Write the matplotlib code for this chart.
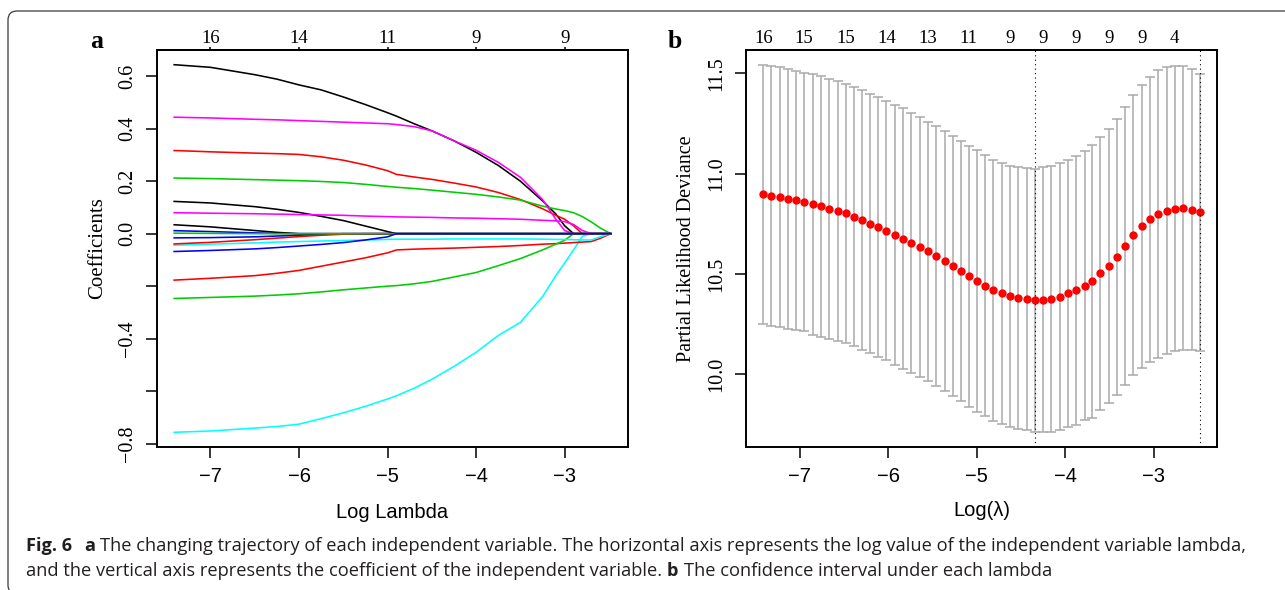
import matplotlib
matplotlib.use("Agg")
import matplotlib.pyplot as plt
import matplotlib.transforms as mtransforms
from matplotlib.patches import FancyBboxPatch

# ---- panel a: coefficient paths ----
xa = [-7.41, -7.0, -6.5, -6.25, -6.0, -5.75, -5.5, -5.25, -5.0, -4.9, -4.7, -4.5,
      -4.25, -4.0, -3.75, -3.5, -3.25, -3.1, -3.0, -2.9, -2.8, -2.7, -2.6, -2.48]

black1 = [0.644, 0.634, 0.606, 0.589, 0.567, 0.548, 0.521, 0.492, 0.461, 0.448, 0.419, 0.392,
          0.354, 0.310, 0.260, 0.200, 0.125, 0.075, 0.030, 0.0, 0, 0, 0, 0]
red1 = [0.317, 0.312, 0.307, 0.305, 0.302, 0.293, 0.280, 0.262, 0.240, 0.226, 0.216, 0.207,
        0.193, 0.178, 0.157, 0.130, 0.095, 0.070, 0.055, 0.030, 0.0, 0, 0, 0]
green1 = [0.212, 0.210, 0.206, 0.204, 0.202, 0.199, 0.195, 0.188, 0.180, 0.177, 0.172, 0.166,
          0.158, 0.150, 0.140, 0.128, 0.105, 0.094, 0.088, 0.080, 0.065, 0.045, 0.022, 0.0]
blue1 = [0.0115, 0.008, 0.003, 0.001, 0.0, 0, 0, 0, 0, 0, 0, 0,
         0, 0, 0, 0, 0, 0, 0, 0, 0, 0, 0, 0]
cyan2 = [-0.757, -0.752, -0.741, -0.735, -0.726, -0.705, -0.683, -0.658, -0.630, -0.618, -0.589, -0.555,
         -0.506, -0.452, -0.388, -0.338, -0.240, -0.160, -0.112, -0.062, -0.010, 0.0, 0, 0]
magenta1 = [0.444, 0.441, 0.436, 0.434, 0.431, 0.428, 0.425, 0.422, 0.419, 0.416, 0.408, 0.392,
            0.354, 0.318, 0.272, 0.215, 0.130, 0.055, 0.012, 0.0, 0, 0, 0, 0]
black2 = [0.123, 0.117, 0.103, 0.093, 0.081, 0.066, 0.050, 0.029, 0.008, 0.0, 0, 0,
          0, 0, 0, 0, 0, 0, 0, 0, 0, 0, 0, 0]
red3 = [-0.177, -0.170, -0.160, -0.151, -0.140, -0.124, -0.108, -0.092, -0.073, -0.062, -0.059, -0.057,
        -0.055, -0.052, -0.049, -0.045, -0.040, -0.038, -0.036, -0.034, -0.032, -0.030, -0.018, 0.0]
green3 = [-0.247, -0.243, -0.238, -0.234, -0.229, -0.222, -0.214, -0.207, -0.200, -0.198, -0.191, -0.182,
          -0.165, -0.148, -0.122, -0.095, -0.062, -0.040, -0.025, 0.0, 0, 0, 0, 0]
blue2 = [-0.016, -0.015, -0.012, -0.009, -0.006, -0.003, 0.0, 0, 0, 0, 0, 0,
         0, 0, 0, 0, 0, 0, 0, 0, 0, 0, 0, 0]
cyan1 = [-0.044, -0.040, -0.035, -0.032, -0.030, -0.028, -0.026, -0.024, -0.022, -0.021, -0.021, -0.021,
         -0.020, -0.020, -0.020, -0.020, -0.021, -0.022, -0.022, -0.023, -0.024, -0.024, -0.012, 0.0]
magenta2 = [0.080, 0.078, 0.076, 0.0745, 0.073, 0.0715, 0.070, 0.067, 0.065, 0.064, 0.063, 0.062,
            0.060, 0.059, 0.057, 0.055, 0.051, 0.049, 0.046, 0.035, 0.012, 0.0, 0, 0]
black3 = [0.034, 0.026, 0.012, 0.005, 0.0, 0, 0, 0, 0, 0, 0, 0,
          0, 0, 0, 0, 0, 0, 0, 0, 0, 0, 0, 0]
red2 = [-0.039, -0.033, -0.023, -0.017, -0.011, -0.006, -0.002, 0.0, 0, 0, 0, 0,
        0, 0, 0, 0, 0, 0, 0, 0, 0, 0, 0, 0]
green2 = [0.002, 0.001, 0.0, 0, 0, 0, 0, 0, 0, 0, 0, 0,
          0, 0, 0, 0, 0, 0, 0, 0, 0, 0, 0, 0]
blue3 = [-0.068, -0.064, -0.058, -0.053, -0.047, -0.041, -0.034, -0.024, -0.012, 0.0, 0, 0,
         0, 0, 0, 0, 0, 0, 0, 0, 0, 0, 0, 0]

paths = [black1, red1, green1, blue1, cyan2, magenta1, black2, red3,
         green3, blue2, cyan1, magenta2, black3, red2, green2, blue3]

top_a_at = [-7, -6, -5, -4, -3]
top_a_labels = ["16", "14", "11", "9", "9"]

# ---- panel b: cross-validation curve ----
log_lambda = [-7.41, -7.32, -7.22, -7.13, -7.04, -6.95, -6.85, -6.76, -6.67, -6.57,
              -6.48, -6.39, -6.29, -6.20, -6.11, -6.02, -5.92, -5.83, -5.74, -5.64,
              -5.55, -5.46, -5.36, -5.27, -5.18, -5.09, -4.99, -4.90, -4.81, -4.71,
              -4.62, -4.53, -4.43, -4.34, -4.25, -4.16, -4.06, -3.97, -3.88, -3.78,
              -3.69, -3.60, -3.50, -3.41, -3.32, -3.23, -3.13, -3.04, -2.95, -2.85,
              -2.76, -2.67, -2.57, -2.48]
cvm = [10.897, 10.890, 10.882, 10.874, 10.867, 10.859, 10.847, 10.837, 10.826, 10.814,
       10.802, 10.786, 10.769, 10.752, 10.734, 10.716, 10.696, 10.676, 10.654, 10.635,
       10.613, 10.590, 10.566, 10.542, 10.517, 10.490, 10.465, 10.442, 10.420, 10.404,
       10.390, 10.379, 10.374, 10.370, 10.372, 10.377, 10.387, 10.404, 10.420, 10.442,
       10.465, 10.503, 10.540, 10.586, 10.640, 10.694, 10.738, 10.772, 10.799, 10.816,
       10.826, 10.829, 10.821, 10.807]
cvsd = [0.646, 0.648, 0.648, 0.648, 0.646, 0.644, 0.648, 0.648, 0.647, 0.646,
        0.645, 0.646, 0.648, 0.646, 0.646, 0.646, 0.647, 0.649, 0.649, 0.647,
        0.645, 0.647, 0.647, 0.648, 0.648, 0.650, 0.652, 0.651, 0.650, 0.649,
        0.650, 0.653, 0.653, 0.655, 0.660, 0.663, 0.665, 0.664, 0.670, 0.671,
        0.680, 0.679, 0.684, 0.688, 0.691, 0.696, 0.706, 0.711, 0.716, 0.714,
        0.709, 0.706, 0.699, 0.690]
top_b_idx = [0, 5, 10, 15, 20, 25, 30, 34, 38, 42, 46, 50]
top_b_labels = ["16", "15", "15", "14", "13", "11", "9", "9", "9", "9", "9", "4"]
idx_min = 33
idx_1se = 53

x_ticks = [-7, -6, -5, -4, -3]
x_ticklabels = ["\u22127", "\u22126", "\u22125", "\u22124", "\u22123"]

caption1 = [("Fig. 6", True), ("a", True),
            ("The changing trajectory of each independent variable. The horizontal axis "
             "represents the log value of the independent variable lambda,", False)]
caption2 = [("and the vertical axis represents the coefficient of the independent variable.", False),
            ("b", True), ("The confidence interval under each lambda", False)]

palette = ["#000000", "#FF0000", "#00CD00", "#0000FF", "#00FFFF", "#FF00FF"]

SERIF = "Liberation Serif"
SANS = "Liberation Sans"

W, H = 1285, 590
fig = plt.figure(figsize=(W / 100, H / 100), dpi=100)


def r_limits(vals):
    lo, hi = min(vals), max(vals)
    pad = 0.04 * (hi - lo)
    return lo - pad, hi + pad


def style_axes(ax):
    for s in ax.spines.values():
        s.set_linewidth(1.4)
    ax.tick_params(axis="both", direction="out", length=8, width=1.1, color="black")
    ax.tick_params(axis="x", pad=6.5)
    ax.set_xticks(x_ticks)
    ax.set_xticklabels(x_ticklabels, fontfamily=SANS, fontsize=14.5)


# ---- panel a ----
axa = fig.add_axes([156.7 / W, 1 - 447 / H, (628.2 - 156.7) / W, 397 / H])
for i, p in enumerate(paths):
    axa.plot(xa, p, color=palette[i % len(palette)], lw=1.15, solid_joinstyle="round")
axa.set_xlim(*r_limits(xa))
allv = [v for p in paths for v in p]
axa.set_ylim(*r_limits(allv))
style_axes(axa)
axa.set_yticks([-0.8, -0.6, -0.4, -0.2, 0.0, 0.2, 0.4, 0.6])
axa.set_yticklabels(["\u22120.8", "", "\u22120.4", "", "0.0", "0.2", "0.4", "0.6"],
                    fontfamily=SERIF, fontsize=14.5, rotation=90, va="center")
axa.tick_params(axis="y", pad=6)
axa.set_xlabel("Log Lambda", fontfamily=SANS, fontsize=14.5, labelpad=12.5)
axa.set_ylabel("Coefficients", fontfamily=SERIF, fontsize=15, labelpad=8)
topa = axa.secondary_xaxis("top")
topa.set_xticks(top_a_at)
topa.set_xticklabels(top_a_labels, fontfamily=SERIF, fontsize=13.5)
topa.tick_params(direction="out", length=2.5, width=1.1, pad=-0.5)
topa.spines["top"].set_linewidth(1.4)

# ---- panel b ----
axb = fig.add_axes([745.9 / W, 1 - 447 / H, (1217 - 745.9) / W, 397 / H])
cvup = [m + s for m, s in zip(cvm, cvsd)]
cvlo = [m - s for m, s in zip(cvm, cvsd)]
axb.errorbar(log_lambda, cvm, yerr=cvsd, fmt="none", ecolor="#A9A9A9",
             elinewidth=1.1, capsize=3.4, capthick=1.1)
axb.plot(log_lambda, cvm, "o", color="#FF0000", markersize=6.0, markeredgewidth=0)
axb.axvline(log_lambda[idx_min], color="black", lw=0.8, ls=(0, (1, 3)))
axb.axvline(log_lambda[idx_1se], color="black", lw=0.8, ls=(0, (1, 3)))
axb.set_xlim(*r_limits(log_lambda))
axb.set_ylim(*r_limits(cvup + cvlo))
style_axes(axb)
axb.set_yticks([10.0, 10.5, 11.0, 11.5])
axb.set_yticklabels(["10.0", "10.5", "11.0", "11.5"], fontfamily=SERIF,
                    fontsize=14.5, rotation=90, va="center")
axb.tick_params(axis="y", pad=6)
axb.set_xlabel("Log(\u03bb)", fontfamily=SANS, fontsize=14.5, labelpad=10.5)
axb.set_ylabel("Partial Likelihood Deviance", fontfamily=SERIF, fontsize=14.5, labelpad=8)
topb = axb.secondary_xaxis("top")
topb.set_xticks([log_lambda[i] for i in top_b_idx])
topb.set_xticklabels(top_b_labels, fontfamily=SERIF, fontsize=13.5)
topb.tick_params(length=0, pad=2.5)
topb.spines["top"].set_linewidth(1.4)

# panel letters
fig.text(97 / W, 1 - 42 / H, "a", fontfamily=SERIF, fontweight="bold", fontsize=18.5,
         ha="center", va="center")
fig.text(675 / W, 1 - 41 / H, "b", fontfamily=SERIF, fontweight="bold", fontsize=18.5,
         ha="center", va="center")

# caption
renderer = fig.canvas.get_renderer()
CAP = "Open Sans"


def draw_line(parts, x0, baseline, size):
    x = x0
    for k, (s, bold) in enumerate(parts):
        t = fig.text(x / W, baseline / H, s, fontfamily=CAP, fontsize=size, color="#231f20",
                     fontweight="bold" if bold else "normal", va="baseline", ha="left")
        bb = t.get_window_extent(renderer)
        gap = 12 if (k == 0 and s.startswith("Fig")) else 5
        x = bb.x1 + gap


draw_line(caption1, 26, H - 551, 13.17)
draw_line(caption2, 26, H - 576, 13.17)

# rounded frame
frame = FancyBboxPatch((8, -4), 1300, H - 11 + 4, boxstyle="round,pad=0,rounding_size=9",
                       transform=mtransforms.IdentityTransform(), fill=False,
                       edgecolor="#3a3a3a", lw=0.9, figure=fig)
fig.patches.append(frame)

fig.savefig("out.png", dpi=100)
